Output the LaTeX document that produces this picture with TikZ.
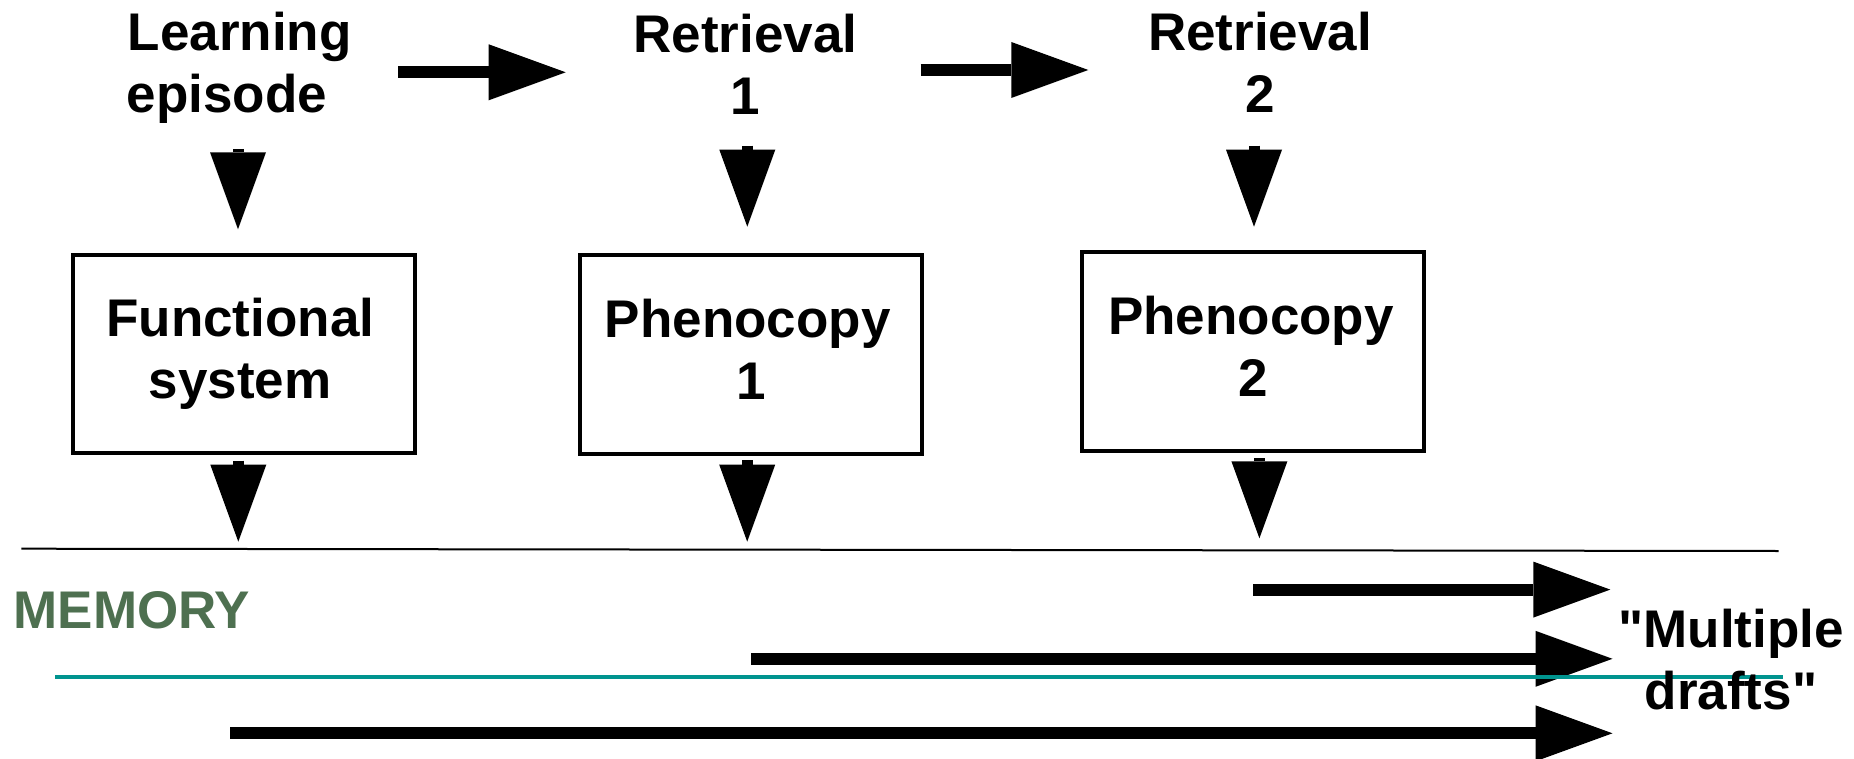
\documentclass[tikz,border=0pt]{standalone}
\usepackage{fontspec}
\setmainfont{Liberation Sans}[Ligatures=TeXOff]
\usetikzlibrary{arrows.meta}
\definecolor{memgreen}{RGB}{78,112,80}
\definecolor{tealline}{RGB}{0,148,143}

\begin{document}
\begin{tikzpicture}[x=1pt,y=-1pt,
  lbl/.style={inner sep=0pt, align=center,
    font=\bfseries\fontsize{53}{62}\selectfont},
  stagebox/.style={lbl, draw, line width=4pt,
    minimum width=342pt, minimum height=198.5pt},
  fatarrow/.style={line width=12pt,
    -{Triangle[length=77pt,width=56pt,line width=0pt]}},
  downarrow/.style={fatarrow, line width=11pt},
  rule/.style={line width=2pt},
  timeline/.style={tealline, line width=4pt}]
\useasboundingbox (0,0) rectangle (1854,759);

% stage labels
\node[lbl, anchor=north] (learn) at (239.8,12.3) {Learning\\episode\rule{26pt}{0pt}};
\node[lbl, anchor=north] (ret1)  at (745.5,14) {Retrieval\\1};
\node[lbl, anchor=north] (ret2)  at (1260,12.3)  {Retrieval\\2};

% systems formed at each stage
\node[stagebox] (fs)  at (243.7,353.9) {Functional\rule{7pt}{0pt}\\system\rule{7pt}{0pt}};
\node[stagebox] (pc1) at (751.3,354.7) {Phenocopy\rule{7pt}{0pt}\\1\vphantom{y}};
\node[stagebox] (pc2) at (1252.9,351.7) {Phenocopy\rule{4pt}{0pt}\\2\vphantom{y}};

% arrow end points
\coordinate (h1s) at (398.3,72.3);  \coordinate (h1e) at (565.7,72.3);
\coordinate (h2s) at (920.7,70);    \coordinate (h2e) at (1088.3,70);
\coordinate (a1s) at (238,149);     \coordinate (a1e) at (238,229.3);
\coordinate (a2s) at (747.3,145.7); \coordinate (a2e) at (747.3,226.7);
\coordinate (a3s) at (1254,145.7);  \coordinate (a3e) at (1254,226.7);
\coordinate (b1s) at (238.3,460.7); \coordinate (b1e) at (238.3,541.7);
\coordinate (b2s) at (747.2,460);   \coordinate (b2e) at (747.2,541.7);
\coordinate (b3s) at (1259.4,458.3);\coordinate (b3e) at (1259.4,538.3);
\coordinate (m1s) at (1253.3,589.6);\coordinate (m1e) at (1610.3,589.6);
\coordinate (m2s) at (751,658.8);   \coordinate (m2e) at (1612.5,658.8);
\coordinate (m3s) at (230,733.3);   \coordinate (m3e) at (1612.5,733.3);
\coordinate (sepL) at (21.4,548.7); \coordinate (sepR) at (1778.6,551);
\coordinate (tlL) at (55,677);      \coordinate (tlR) at (1783,677);

% sequence of episodes
\draw[fatarrow] (h1s) -- (h1e);
\draw[fatarrow] (h2s) -- (h2e);

% each episode produces a system
\draw[downarrow] (a1s) -- (a1e);
\draw[downarrow] (a2s) -- (a2e);
\draw[downarrow] (a3s) -- (a3e);

% each system is stored in memory
\draw[downarrow] (b1s) -- (b1e);
\draw[downarrow] (b2s) -- (b2e);
\draw[downarrow] (b3s) -- (b3e);

% memory boundary
\draw[rule] (sepL) -- (sepR);

% coexisting traces
\draw[fatarrow] (m1s) -- (m1e);
\draw[fatarrow] (m2s) -- (m2e);
\draw[fatarrow] (m3s) -- (m3e);

\draw[timeline] (tlL) -- (tlR);

\node[lbl, text=memgreen, anchor=base west] (mem) at (13.4,628.3) {MEMORY};
\node[lbl, anchor=north] (drafts) at (1731,609) {"Multiple\\drafts"};
\end{tikzpicture}
\end{document}
